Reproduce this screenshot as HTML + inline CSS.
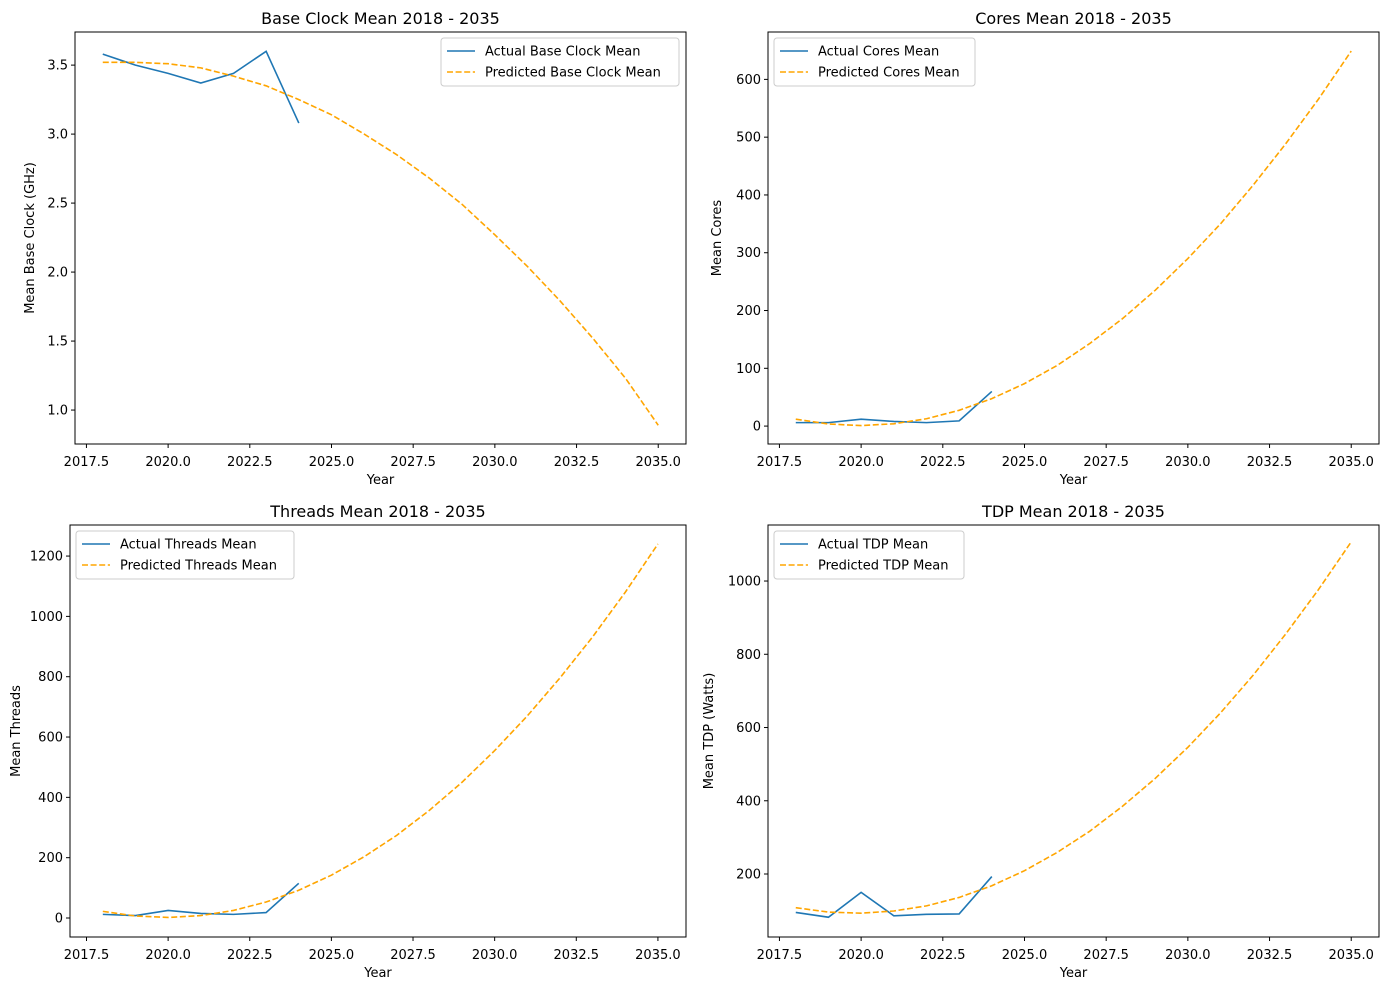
<!DOCTYPE html>
<html><head><meta charset="utf-8"><style>
body{margin:0;background:#fff;}
svg{font-family:"DejaVu Sans","Liberation Sans",sans-serif;}
</style></head><body>
<svg id="fig" width="1388" height="990" viewBox="0 0 1388 990"></svg>
<script>
const years=[2018,2019,2020,2021,2022,2023,2024];
const predYears=[2018,2019,2020,2021,2022,2023,2024,2025,2026,2027,2028,2029,2030,2031,2032,2033,2034,2035];
const clockActual=[3.58,3.50,3.44,3.37,3.44,3.60,3.08];
const clockPred=[3.52,3.52,3.51,3.48,3.42,3.35,3.25,3.14,3.0,2.85,2.68,2.49,2.27,2.04,1.79,1.52,1.23,0.89];
const coresActual=[6,6,12,8,6,9,60];
const coresPred=[12,3.6,0.9,4,12.7,27.3,47.5,73.5,105,143,186,235,290,350,417,489,566,649];
const threadsActual=[12,8,25,15,12,18,115];
const threadsPred=[22,6.5,1.8,8,25,53,92,142,203,274,357,450,555,670,796,932,1080,1240];
const tdpActual=[95,82,150,86,90,91,193];
const tdpPred=[108,96,93,99,113,136,168,209,259,317,385,461,546,640,743,856,977,1107];
const xTicks=[2017.5,2020.0,2022.5,2025.0,2027.5,2030.0,2032.5,2035.0];
const clockTicks=[1.0,1.5,2.0,2.5,3.0,3.5];
const coresTicks=[0,100,200,300,400,500,600];
const threadsTicks=[0,200,400,600,800,1000,1200];
const tdpTicks=[200,400,600,800,1000];

const NS="http://www.w3.org/2000/svg";
const svg=document.getElementById('fig');
function mk(tag,attrs,parent){const e=document.createElementNS(NS,tag);for(const k in attrs)e.setAttribute(k,attrs[k]);(parent||svg).appendChild(e);return e;}

const panels=[
 {key:'base-clock',title:'Base Clock Mean 2018 - 2035',ylabel:'Mean Base Clock (GHz)',L:75,R:686,T:32,B:444,xmin:2017.15,xmax:2035.85,ymin:0.754,ymax:3.74,yt:clockTicks,fmt:v=>v.toFixed(1),act:clockActual,pred:clockPred,la:'Actual Base Clock Mean',lp:'Predicted Base Clock Mean',legRight:true,lw:238,ylx:34},
 {key:'cores',title:'Cores Mean 2018 - 2035',ylabel:'Mean Cores',L:768,R:1379,T:32,B:444,xmin:2017.15,xmax:2035.85,ymin:-31,ymax:682,yt:coresTicks,fmt:v=>String(v),act:coresActual,pred:coresPred,la:'Actual Cores Mean',lp:'Predicted Cores Mean',legRight:false,lw:201,ylx:721},
 {key:'threads',title:'Threads Mean 2018 - 2035',ylabel:'Mean Threads',L:70,R:686,T:525,B:937,xmin:2016.995,xmax:2035.86,ymin:-63,ymax:1303,yt:threadsTicks,fmt:v=>String(v),act:threadsActual,pred:threadsPred,la:'Actual Threads Mean',lp:'Predicted Threads Mean',legRight:false,lw:218,ylx:20},
 {key:'tdp',title:'TDP Mean 2018 - 2035',ylabel:'Mean TDP (Watts)',L:768,R:1379,T:525,B:937,xmin:2017.15,xmax:2035.85,ymin:28,ymax:1153,yt:tdpTicks,fmt:v=>String(v),act:tdpActual,pred:tdpPred,la:'Actual TDP Mean',lp:'Predicted TDP Mean',legRight:false,lw:190,ylx:713}
];
panels.forEach(p=>{
  const g=mk('g',{});
  
  
  const sx=v=>p.L+(v-p.xmin)/(p.xmax-p.xmin)*(p.R-p.L);
  const sy=v=>p.B-(v-p.ymin)/(p.ymax-p.ymin)*(p.B-p.T);
  const t=mk('text',{x:(p.L+p.R)/2,y:p.T-8,'text-anchor':'middle','font-size':16,fill:'#000'},g);t.textContent=p.title;
  
  xTicks.forEach(v=>{const x=sx(v);mk('line',{x1:x,x2:x,y1:p.B,y2:p.B+4,stroke:'#000','stroke-width':1},g);
    const tx=mk('text',{x:x,y:p.B+22,'text-anchor':'middle','font-size':13},g);tx.textContent=v.toFixed(1);
    });
  const xl=mk('text',{x:(p.L+p.R)/2,y:p.B+40,'text-anchor':'middle','font-size':13},g);xl.textContent='Year';
  
  p.yt.forEach(v=>{const y=sy(v);mk('line',{x1:p.L-4,x2:p.L,y1:y,y2:y,stroke:'#000','stroke-width':1},g);
    const ty=mk('text',{x:p.L-7,y:y+4.5,'text-anchor':'end','font-size':13},g);ty.textContent=p.fmt(v);
    });
  const yl=mk('text',{x:p.ylx,y:(p.T+p.B)/2,'text-anchor':'middle','font-size':13,transform:`rotate(-90 ${p.ylx} ${(p.T+p.B)/2})`},g);yl.textContent=p.ylabel;
  
  const cp=mk('clipPath',{id:'c'+p.key},g);mk('rect',{x:p.L,y:p.T,width:p.R-p.L,height:p.B-p.T},cp);
  const pa=mk('polyline',{points:years.map((y,i)=>sx(y)+','+sy(p.act[i])).join(' '),fill:'none',stroke:'#1f77b4','stroke-width':1.6,'clip-path':`url(#c${p.key})`},g);
  
  const pp=mk('polyline',{points:predYears.map((y,i)=>sx(y)+','+sy(p.pred[i])).join(' '),fill:'none',stroke:'orange','stroke-width':1.6,'stroke-dasharray':'6,2.6','clip-path':`url(#c${p.key})`},g);
  
  mk('rect',{x:p.L,y:p.T,width:p.R-p.L,height:p.B-p.T,fill:'none',stroke:'#000','stroke-width':1},g);
  const lw=p.lw; const lh=48;
  const lx=p.legRight?p.R-7-lw:p.L+6, ly=p.T+6;
  const lg=mk('g',{},g);
  mk('rect',{x:lx,y:ly,width:lw,height:lh,rx:3,fill:'#fff','fill-opacity':0.8,stroke:'#ccc'},lg);
  [[p.la,'#1f77b4',null],[p.lp,'orange','6,2.6']].forEach((e,i)=>{
    const yy=ly+13+i*21;
    const ln=mk('line',{x1:lx+6,x2:lx+34,y1:yy,y2:yy,stroke:e[1],'stroke-width':1.6},lg);
    if(e[2])ln.setAttribute('stroke-dasharray',e[2]);
    const lt=mk('text',{x:lx+44,y:yy+4.5,'font-size':13},lg);lt.textContent=e[0];
    
  });
});
</script>
</body></html>
